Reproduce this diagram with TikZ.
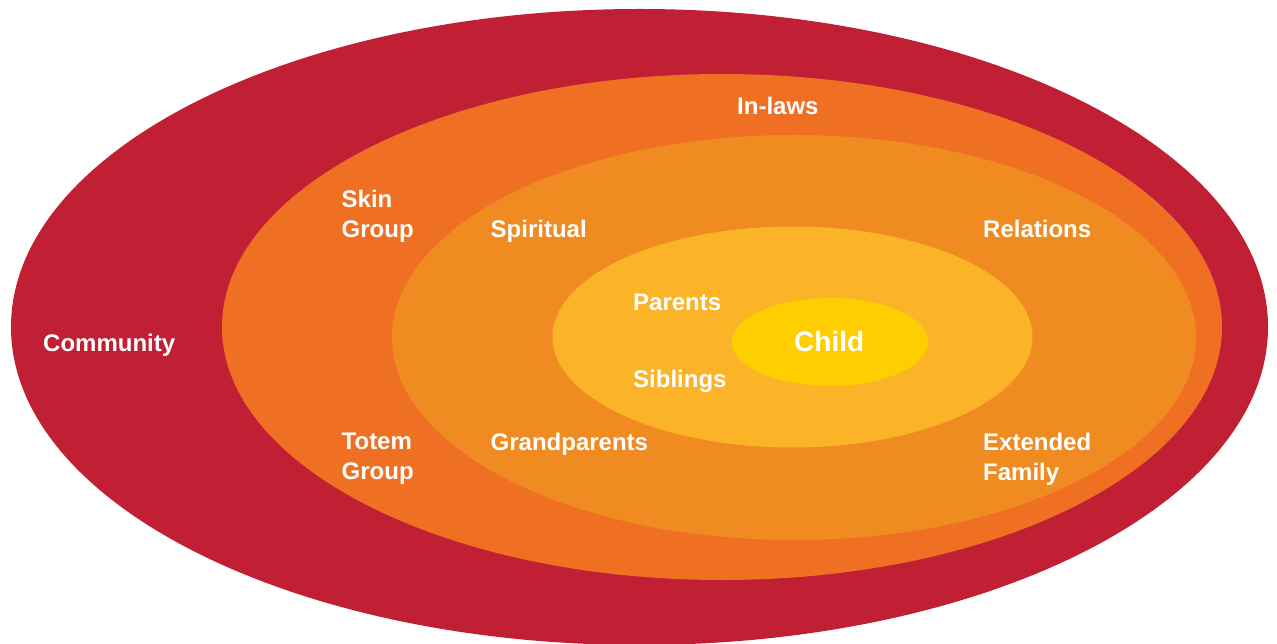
\documentclass[tikz,border=0pt]{standalone}
\usepackage{fontspec}
\setmainfont{Liberation Sans}
\definecolor{ringcommunity}{HTML}{C11F33}
\definecolor{ringkin}{HTML}{F07023}
\definecolor{ringfamily}{HTML}{F08B21}
\definecolor{ringhome}{HTML}{FBB327}
\definecolor{ringchild}{HTML}{FFCE00}
\begin{document}
\begin{tikzpicture}[x=1pt,y=-1pt,
  lbl/.style={anchor=north west,inner sep=0pt,text=white,align=left,
    font=\bfseries\fontsize{24}{30}\selectfont},
  big/.style={lbl,font=\bfseries\fontsize{28}{32}\selectfont}]
\useasboundingbox (0,0) rectangle (1277,644);
\clip (0,0) rectangle (1277,644);
% concentric rings, outermost first
\fill[ringcommunity] (639.5,327) ellipse [x radius=628.5pt, y radius=318pt];
\fill[ringkin] (722,327) ellipse [x radius=500pt, y radius=253pt];
\fill[ringfamily] (794,337.5) ellipse [x radius=402pt, y radius=202.5pt];
\fill[ringhome] (792.5,337) ellipse [x radius=240pt, y radius=110.5pt];
\fill[ringchild] (830,342) ellipse [x radius=98pt, y radius=44pt];
% labels
\node[lbl] (community) at (43,334) {Community};
\node[lbl] (inlaws) at (737,97) {In-laws};
\node[lbl] (skin) at (341.5,190) {Skin\\Group};
\node[lbl] (totem) at (341.5,433) {Totem\\Group};
\node[lbl] (spiritual) at (490.5,220) {Spiritual};
\node[lbl] (grandparents) at (490.5,433) {Grandparents};
\node[lbl] (relations) at (983,220) {Relations};
\node[lbl] (extended) at (983,433) {Extended\\Family};
\node[lbl] (parents) at (633,294) {Parents};
\node[lbl] (siblings) at (633,369.5) {Siblings};
\node[big] (child) at (794,331.5) {Child};
\end{tikzpicture}
\end{document}
